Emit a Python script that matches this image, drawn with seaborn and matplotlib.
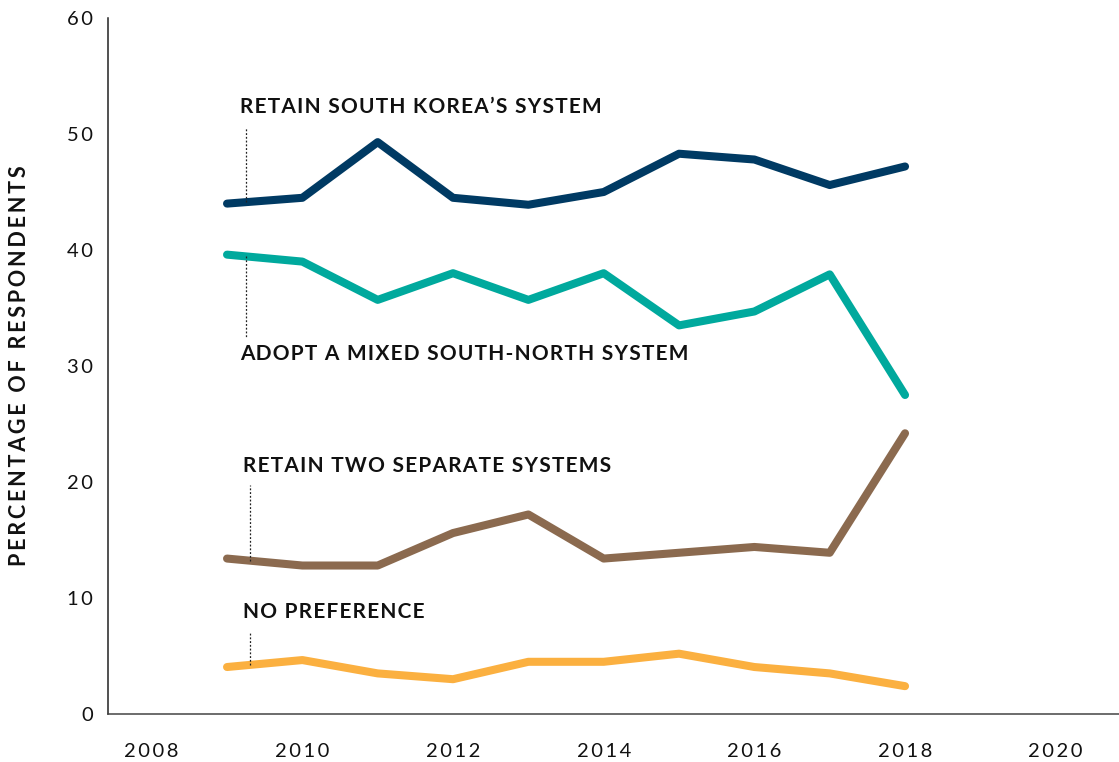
import numpy as np
import pandas as pd
import seaborn as sns
import matplotlib.pyplot as plt

# Données
years = [2009, 2010, 2011, 2012, 2013, 2014, 2015, 2016, 2017, 2018]
retain_south = [44.0, 44.5, 49.3, 44.5, 43.9, 45.0, 48.3, 47.8, 45.6, 47.2]
mixed_system = [39.6, 39.0, 35.7, 38.0, 35.7, 38.0, 33.5, 34.7, 37.9, 27.5]
two_systems = [13.4, 12.8, 12.8, 15.6, 17.2, 13.4, 13.9, 14.4, 13.9, 24.2]
no_preference = [4.05, 4.65, 3.5, 3.0, 4.5, 4.5, 5.2, 4.05, 3.5, 2.4]

series_names = ["RETAIN SOUTH KOREA’S SYSTEM", "ADOPT A MIXED SOUTH-NORTH SYSTEM",
                "RETAIN TWO SEPARATE SYSTEMS", "NO PREFERENCE"]
colors = ["#003a63", "#00a99d", "#8b6a4f", "#fbb040"]

year_labels = [2008, 2010, 2012, 2014, 2016, 2018, 2020]
tick_marks = [2009.35, 2011.27, 2013.19, 2015.1, 2017.0, 2018.92]
y_ticks = [0, 10, 20, 30, 40, 50, 60]

rows = []
for name, vals in zip(series_names, [retain_south, mixed_system, two_systems, no_preference]):
    for y, v in zip(years, vals):
        rows.append({"year": y, "value": v, "series": name})
df = pd.DataFrame(rows)

sns.set_style("white")
plt.rcParams['font.family'] = ['Lato', 'DejaVu Sans']


def spaced(s, sep="\u200a"):
    return sep.join(s)


fig = plt.figure(figsize=(11.19, 7.62), dpi=100)
ax = fig.add_axes([108 / 1119, 48 / 762, 1 - 108 / 1119, 696 / 762])

sns.lineplot(data=df, x="year", y="value", hue="series", hue_order=series_names,
             palette=colors, linewidth=5.8, legend=False, ax=ax, solid_capstyle="round")

ax.set_xlim(2007.42, 2020.84)
ax.set_ylim(0, 60)

# Axes
for s in ["top", "right"]:
    ax.spines[s].set_visible(False)
ax.spines["left"].set_color("#222222")
ax.spines["left"].set_linewidth(1.1)
ax.spines["bottom"].set_color("#444444")
ax.spines["bottom"].set_linewidth(1.1)

ax.set_yticks(y_ticks)
ax.set_yticklabels([spaced(str(t), "\u200a\u200a") for t in y_ticks])
ax.tick_params(axis="y", direction="in", length=19.5, width=1.1, color="#222222",
               pad=11, labelsize=14.5, labelcolor="#111111")

ax.set_xticks(year_labels)
ax.set_xticklabels([spaced(str(t), "\u200a\u200a") for t in year_labels])
ax.tick_params(axis="x", which="major", length=0, pad=21, labelsize=14.5, labelcolor="#111111")
ax.set_xticks(tick_marks, minor=True)
ax.tick_params(axis="x", which="minor", direction="in", length=10, width=1.1, color="#444444")

ax.set_xlabel("")
ax.set_ylabel(spaced("PERCENTAGE OF RESPONDENTS", "\u200a\u200a"), fontsize=15.5,
              fontweight="bold", color="#111111")
ax.yaxis.set_label_coords(-0.077, 0.5)

# Étiquettes des séries avec traits pointillés
labels = [
    (series_names[0], retain_south, 2009.17, 51.8, 2009.25, 50.6),
    (series_names[1], mixed_system, 2009.17, 30.5, 2009.25, 32.5),
    (series_names[2], two_systems, 2009.21, 20.86, 2009.3, 19.7),
    (series_names[3], no_preference, 2009.21, 8.28, 2009.3, 7.07),
]
for name, vals, tx, ty, lx, ly in labels:
    ax.text(tx, ty, spaced(name), fontsize=15, fontweight="bold", color="#111111",
            ha="left", va="baseline")
    y0 = np.interp(lx, years, vals)
    ax.plot([lx, lx], [y0, ly], color="#222222", linestyle=(0, (1.5, 1.5)), linewidth=0.9)

plt.savefig("out.png", dpi=100)
